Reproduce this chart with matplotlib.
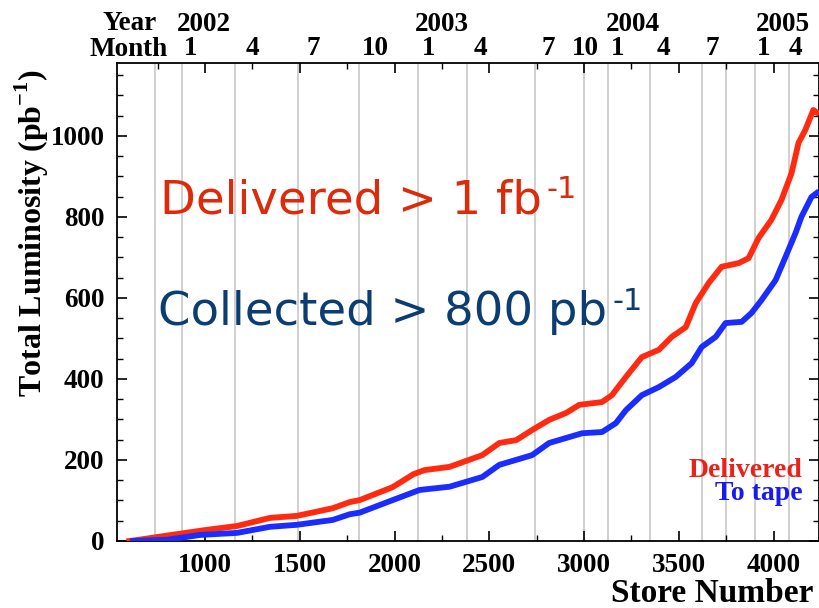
import numpy as np
import matplotlib
matplotlib.use('Agg')
import matplotlib.pyplot as plt
from matplotlib.ticker import MultipleLocator
from matplotlib.transforms import blended_transform_factory

# cumulative luminosity vs store number
store_delivered = [600, 650, 750, 1000, 1168, 1342, 1484, 1674, 1763, 1816, 1990, 2100, 2158, 2290,
                   2463, 2553, 2642, 2726, 2816, 2905, 2974, 3095, 3147, 3221, 3305, 3395, 3463,
                   3537, 3589, 3658, 3726, 3816, 3868, 3921, 3989, 4042, 4095, 4132, 4168, 4210, 4228]
lumi_delivered = [0, 3, 10, 27, 37, 57, 62, 81, 96, 101, 133, 165, 175, 183,
                  212, 242, 249, 274, 299, 316, 336, 343, 360, 405, 454, 472, 504,
                  528, 587, 637, 677, 686, 698, 748, 793, 842, 908, 983, 1015, 1064, 1058]

store_tape = [620, 800, 974, 1168, 1342, 1484, 1674, 1763, 1816, 1990, 2132, 2290, 2463, 2553,
              2726, 2816, 2990, 3095, 3168, 3221, 3305, 3395, 3484, 3568, 3621, 3695, 3747,
              3832, 3884, 3937, 4011, 4063, 4116, 4147, 4200, 4228]
lumi_tape = [0, 3, 15, 20, 35, 40, 52, 66, 70, 101, 126, 134, 158, 188,
             212, 242, 266, 269, 291, 323, 360, 380, 405, 439, 479, 504, 538,
             541, 563, 595, 644, 701, 760, 800, 849, 859]

# vertical reference lines (store numbers)
vlines = [736, 878, 1158, 1491, 1814, 2125, 2384, 2743, 3002, 3129, 3346, 3620, 3747, 3900, 4080]

month_pos = [921, 1248, 1571, 1898, 2178, 2453, 2812, 3007, 3176, 3419, 3678, 3948, 4117]
month_lab = ['1', '4', '7', '10', '1', '4', '7', '10', '1', '4', '7', '1', '4']
year_pos = [995, 2252, 3256, 4048]
year_lab = ['2002', '2003', '2004', '2005']

serif = 'Liberation Serif'
W, H = 820, 608

fig = plt.figure(figsize=(8.2, 6.08), dpi=100)
ax = fig.add_axes([117/W, 1 - 541/H, 702/W, 478/H])

for v in vlines:
    ax.axvline(v, color='#c8c8c8', lw=1.2, zorder=0)

ax.plot(store_delivered, lumi_delivered, color='#ff2a10', lw=4.2, zorder=3)
ax.plot(store_tape, lumi_tape, color='#1a2cff', lw=4.2, zorder=3)

ax.set_xlim(535, 4240)
ax.set_ylim(0, 1180)
ax.xaxis.set_major_locator(MultipleLocator(500))
ax.xaxis.set_minor_locator(MultipleLocator(250))
ax.yaxis.set_major_locator(MultipleLocator(200))
ax.yaxis.set_minor_locator(MultipleLocator(50))
ax.tick_params(which='both', direction='in', top=True, right=True, labeltop=False)
ax.tick_params(which='major', length=7, width=1.2, pad=9)
ax.tick_params(which='minor', length=4, width=1)
for sp in ax.spines.values():
    sp.set_linewidth(1.3)
for lab in ax.get_xticklabels() + ax.get_yticklabels():
    lab.set_fontfamily(serif)
    lab.set_fontweight('bold')
    lab.set_fontsize(19.5)

# top year / month labels
tr = blended_transform_factory(ax.transData, ax.transAxes)
for p, s in zip(month_pos, month_lab):
    ax.text(p, 1.031, s, transform=tr, ha='center', va='center',
            fontfamily=serif, fontweight='bold', fontsize=19.5, clip_on=False)
for p, s in zip(year_pos, year_lab):
    ax.text(p, 1.0815, s, transform=tr, ha='center', va='center',
            fontfamily=serif, fontweight='bold', fontsize=19.5, clip_on=False)
fig.text(157/W, 1 - 23/H, 'Year', ha='right', va='center',
         fontfamily=serif, fontweight='bold', fontsize=19.5)
fig.text(168/W, 1 - 49/H, 'Month', ha='right', va='center',
         fontfamily=serif, fontweight='bold', fontsize=19.5)

# axis titles
fig.text(813/W, 1 - 593/H, 'Store Number', ha='right', va='center',
         fontfamily=serif, fontweight='bold', fontsize=24)
fig.text(32/W, 1 - 233/H, r'Total Luminosity (pb$^{\mathregular{-1}}$)', rotation=90,
         ha='center', va='center', fontfamily=serif, fontweight='bold', fontsize=23)

# legend text
ax.text(0.977, 0.1485, 'Delivered', transform=ax.transAxes, ha='right', va='center',
        color='#e8231b', fontfamily=serif, fontweight='bold', fontsize=20)
ax.text(0.977, 0.100, 'To tape', transform=ax.transAxes, ha='right', va='center',
        color='#1a1aee', fontfamily=serif, fontweight='bold', fontsize=20)

# annotations with small "-1" superscripts
notes = [('Delivered > 1 fb', 160, 213, '#dc2a0a'),
         ('Collected > 800 pb', 158, 325, '#0b3d72')]
fig.canvas.draw()
renderer = fig.canvas.get_renderer()
for txt, x0, base, col in notes:
    t = fig.text(x0/W, 1 - base/H, txt, ha='left', va='baseline',
                 color=col, fontfamily='DejaVu Sans', fontsize=33.5)
    bb = t.get_window_extent(renderer)
    fig.text((bb.x1 + 5)/W, (H - base + 15)/H, '-1', ha='left', va='baseline',
             color=col, fontfamily='DejaVu Sans', fontsize=22)

fig.savefig('out.png', dpi=100)
